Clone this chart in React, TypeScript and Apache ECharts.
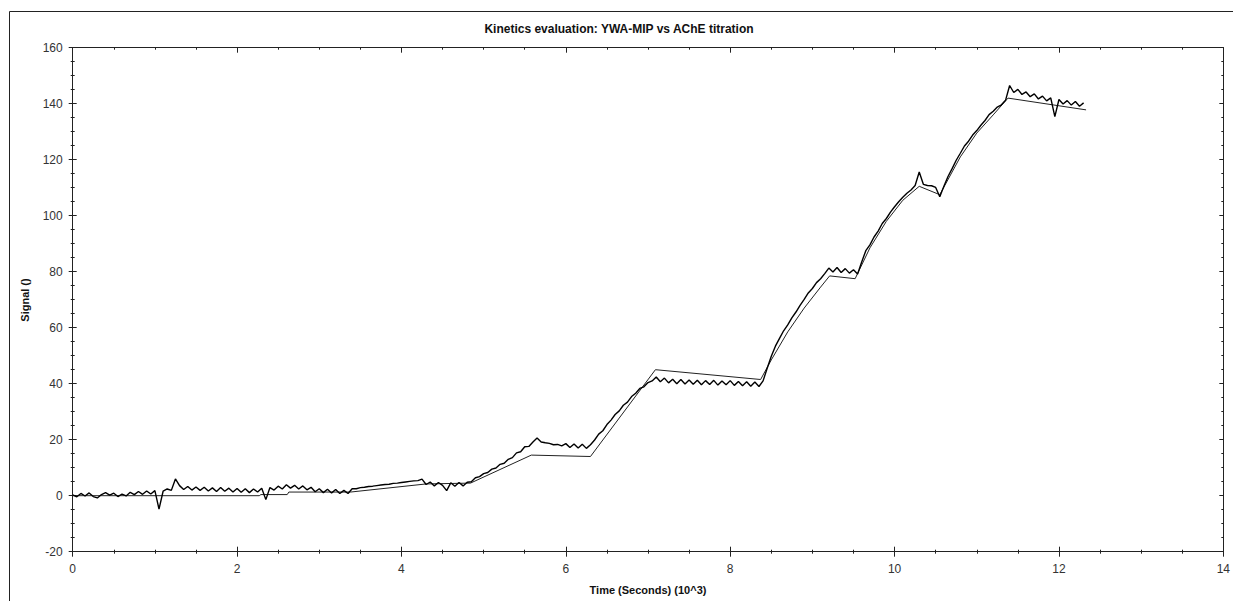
import React, { useEffect, useRef } from "react";
import * as echarts from "echarts";

const chartTitle = "Kinetics evaluation: YWA-MIP vs AChE titration";
const xAxisName = "Time (Seconds) (10^3)";
const yAxisName = "Signal ()";

const xMin = 0, xMax = 14, xInterval = 2;
const yMin = -20, yMax = 160, yInterval = 20;

const signalStart = 0;
const signalStep = 0.05;
const signalValues = [
  0.3, -0.4, 0.8, -0.1, 1.0, -0.3, -0.8, 0.4, 1.1, 0.2,
  0.9, -0.3, 0.6, -0.1, 1.2, 0.4, 1.5, 0.5, 1.7, 0.6,
  1.8, -4.8, 1.6, 2.4, 1.9, 6.0, 3.6, 2.2, 3.3, 2.0,
  3.1, 1.9, 3.0, 1.7, 2.8, 1.5, 2.9, 1.6, 2.7, 1.3,
  2.6, 1.2, 2.5, 1.1, 2.4, 1.3, 2.7, -1.4, 2.9, 2.0,
  3.4, 2.4, 3.9, 2.7, 3.7, 2.4, 3.5, 2.1, 3.0, 1.4,
  2.5, 1.1, 2.3, 1.0, 2.2, 0.8, 1.9, 0.8, 2.5, 2.5,
  2.9, 3.0, 3.3, 3.4, 3.6, 3.8, 4.0, 4.1, 4.4, 4.5,
  4.7, 4.9, 5.1, 5.3, 5.4, 5.9, 4.0, 4.9, 3.5, 4.7,
  3.7, 1.8, 4.6, 3.4, 4.7, 3.5, 4.8, 5.0, 6.4, 6.8,
  7.9, 8.3, 9.5, 9.9, 11.2, 11.6, 13.0, 13.6, 15.3, 15.7,
  17.5, 17.6, 19.2, 20.6, 19.2, 18.9, 18.7, 18.2, 18.3, 17.8,
  18.6, 17.2, 18.5, 17.0, 18.4, 16.9, 18.2, 19.9, 22.0, 23.2,
  25.4, 27.0, 29.0, 30.3, 32.3, 33.4, 35.4, 36.6, 38.3, 38.9,
  40.4, 41.0, 42.4, 40.7, 42.0, 40.3, 41.6, 40.0, 41.5, 39.9,
  41.3, 39.8, 41.2, 39.6, 41.1, 39.7, 41.2, 39.5, 41.0, 39.6,
  41.1, 39.4, 40.8, 39.3, 40.7, 39.1, 40.6, 39.0, 41.0, 45.5,
  49.8, 53.4, 56.2, 58.9, 61.0, 63.5, 65.6, 68.0, 70.1, 72.4,
  74.0, 76.1, 77.5, 79.3, 81.3, 79.9, 81.5, 79.7, 81.1, 79.5,
  80.7, 79.2, 83.5, 87.5, 89.6, 92.4, 94.5, 97.2, 99.0, 101.3,
  103.2, 105.0, 106.6, 108.0, 109.2, 110.8, 115.6, 111.2, 110.8, 110.7,
  110.1, 106.8, 110.5, 114.0, 116.8, 119.8, 122.3, 124.9, 126.6, 128.8,
  130.4, 132.3, 134.0, 136.1, 137.3, 138.8, 139.6, 141.2, 146.5, 144.0,
  145.1, 143.3, 144.2, 142.5, 143.5, 141.7, 142.7, 141.0, 142.1, 135.4,
  141.5, 139.9, 141.1, 139.5, 140.8, 139.1, 140.3
];

// Fitted curve vertices
const fitTimes = [
  0, 2.27, 2.29, 2.61, 2.63, 3.38, 4.3, 4.84, 5.58, 6.3,
  7.09, 8.37, 8.5, 8.7, 8.9, 9.1, 9.21, 9.52, 9.7, 9.9,
  10.1, 10.3, 10.55, 10.8, 11.0, 11.2, 11.38, 12.33
];
const fitValues = [
  0, 0, 0.4, 0.4, 1.3, 1.3, 4.2, 4.5, 14.5, 14.0,
  45.0, 41.5, 48.5, 58.5, 67.0, 74.5, 78.5, 77.5, 88.5, 98.0,
  105.5, 110.5, 107.5, 121.0, 129.5, 136.0, 142.0, 137.8
];

const FONT = "'Liberation Sans', Arial, sans-serif";

export default function App() {
  const ref = useRef<HTMLDivElement>(null);

  useEffect(() => {
    if (!ref.current) return;
    const chart = echarts.init(ref.current, null, { renderer: "svg" });

    const signalData = signalValues.map((v, i) => [
      +(signalStart + i * signalStep).toFixed(2),
      v,
    ]);
    const fitData = fitTimes.map((t, i) => [t, fitValues[i]]);

    const axisLineStyle = { color: "#222", width: 1 };
    const baseX = { type: "value", min: xMin, max: xMax, interval: xInterval, splitLine: { show: false } };
    const baseY = { type: "value", min: yMin, max: yMax, interval: yInterval, splitLine: { show: false } };

    chart.setOption({
      animation: false,
      backgroundColor: "#fff",
      grid: { left: 72.7, top: 47.7, right: 5.5, bottom: 49.3, containLabel: false },
      xAxis: [
        {
          ...baseX,
          position: "bottom",
          axisLine: { show: true, onZero: false, lineStyle: axisLineStyle },
          axisTick: { show: true, length: 5, lineStyle: axisLineStyle },
          minorTick: { show: true, splitNumber: 4, length: 2, lineStyle: axisLineStyle },
          axisLabel: { show: true, margin: 11, color: "#333", fontSize: 12, fontFamily: FONT },
        },
        {
          ...baseX,
          position: "bottom",
          axisLine: { show: false, onZero: false },
          axisTick: { show: true, inside: true, length: 5, lineStyle: axisLineStyle },
          minorTick: { show: true, splitNumber: 4, length: 2, lineStyle: axisLineStyle },
          axisLabel: { show: false },
        },
        {
          ...baseX,
          position: "top",
          axisLine: { show: true, onZero: false, lineStyle: axisLineStyle },
          axisTick: { show: true, inside: true, length: 5, lineStyle: axisLineStyle },
          minorTick: { show: true, splitNumber: 4, length: 2, lineStyle: axisLineStyle },
          axisLabel: { show: false },
        },
      ],
      yAxis: [
        {
          ...baseY,
          position: "left",
          axisLine: { show: true, onZero: false, lineStyle: axisLineStyle },
          axisTick: { show: true, length: 4, lineStyle: axisLineStyle },
          minorTick: { show: true, splitNumber: 4, length: 2, lineStyle: axisLineStyle },
          axisLabel: { show: true, margin: 10, color: "#333", fontSize: 12, fontFamily: FONT },
        },
        {
          ...baseY,
          position: "left",
          axisLine: { show: false, onZero: false },
          axisTick: { show: true, inside: true, length: 4, lineStyle: axisLineStyle },
          minorTick: { show: true, splitNumber: 4, length: 2, lineStyle: axisLineStyle },
          axisLabel: { show: false },
        },
        {
          ...baseY,
          position: "right",
          axisLine: { show: true, onZero: false, lineStyle: axisLineStyle },
          axisTick: { show: true, inside: true, length: 4, lineStyle: axisLineStyle },
          minorTick: { show: true, splitNumber: 4, length: 2, lineStyle: axisLineStyle },
          axisLabel: { show: false },
        },
      ],
      series: [
        {
          name: "Fit",
          type: "line",
          xAxisIndex: 0,
          yAxisIndex: 0,
          data: fitData,
          showSymbol: false,
          symbol: "none",
          lineStyle: { color: "#222", width: 1 },
          clip: true,
        },
        {
          name: "Signal",
          type: "line",
          xAxisIndex: 0,
          yAxisIndex: 0,
          data: signalData,
          showSymbol: false,
          symbol: "none",
          lineStyle: { color: "#000", width: 1.4 },
          clip: true,
        },
      ],
      graphic: [
        {
          type: "line",
          shape: { x1: 9.5, y1: 11.5, x2: 1233, y2: 11.5 },
          style: { stroke: "#222", lineWidth: 1 },
          silent: true,
        },
        {
          type: "line",
          shape: { x1: 9.5, y1: 11.5, x2: 9.5, y2: 601 },
          style: { stroke: "#222", lineWidth: 1 },
          silent: true,
        },
        {
          type: "text",
          x: 619,
          y: 29,
          style: {
            text: chartTitle,
            fill: "#111",
            font: `bold 12px ${FONT}`,
            textAlign: "center",
            textVerticalAlign: "middle",
          },
        },
        {
          type: "text",
          x: 25,
          y: 300,
          rotation: Math.PI / 2,
          style: {
            text: yAxisName,
            fill: "#111",
            font: `bold 11px ${FONT}`,
            textAlign: "center",
            textVerticalAlign: "middle",
          },
        },
        {
          type: "text",
          x: 648,
          y: 590,
          style: {
            text: xAxisName,
            fill: "#111",
            font: `bold 11px ${FONT}`,
            textAlign: "center",
            textVerticalAlign: "middle",
          },
        },
      ],
    });

    return () => chart.dispose();
  }, []);

  return (
    <div
      ref={ref}
      style={{ position: "fixed", left: 0, top: 0, width: 1233, height: 601, background: "#fff" }}
    />
  );
}
